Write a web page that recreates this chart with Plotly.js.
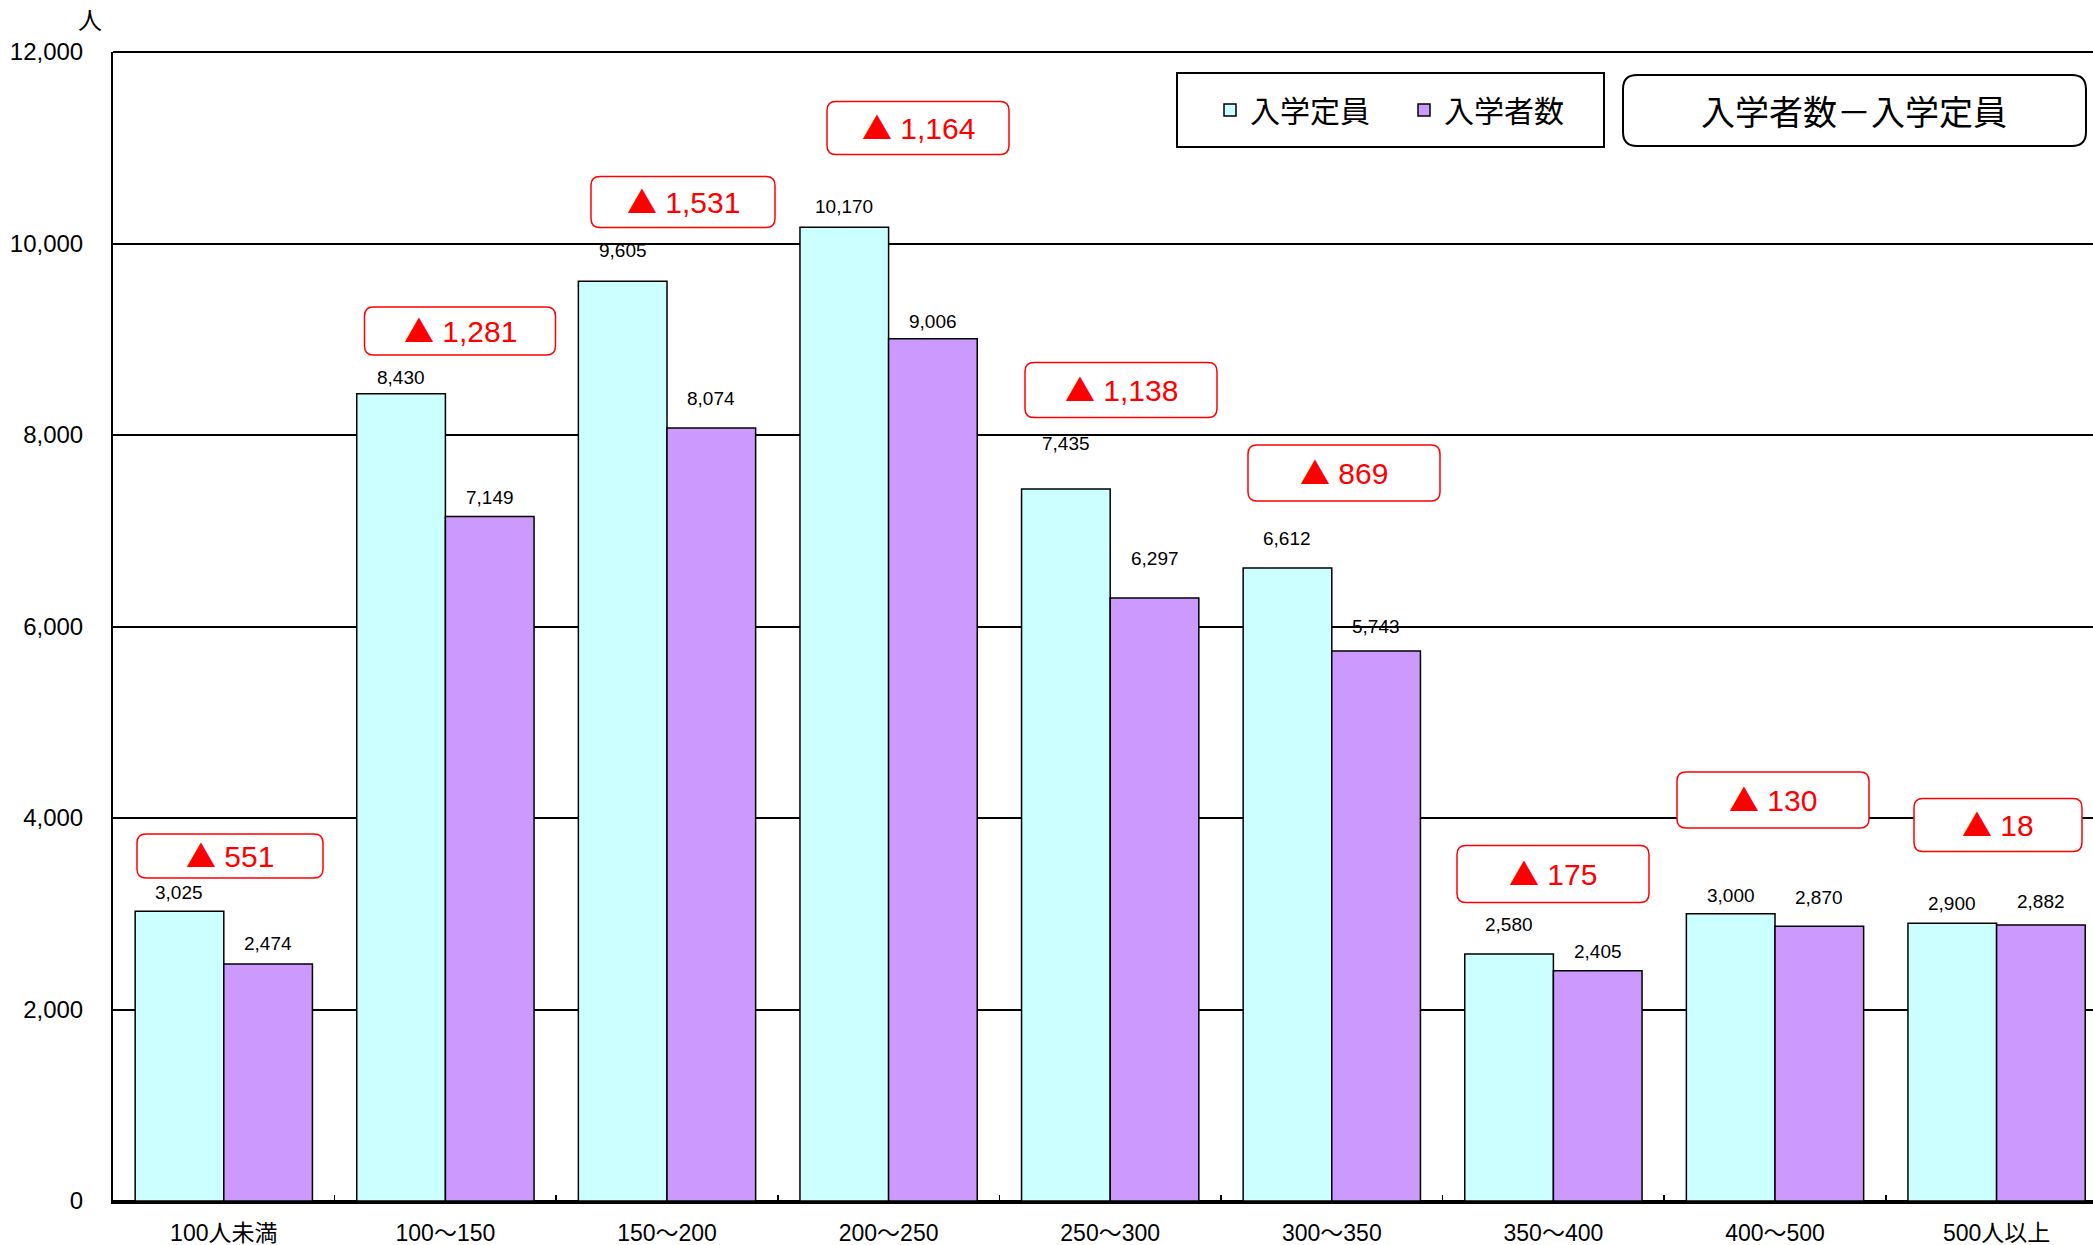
<!DOCTYPE html>
<html><head><meta charset="utf-8">
<script src="https://cdn.plot.ly/plotly-3.0.1.min.js"></script>
<style>html,body{margin:0;padding:0;background:#fff;} #chart{width:2093px;height:1245px;}</style>
</head><body><div id="chart"></div>
<script>
const categories = ['100人未満','100～150','150～200','200～250','250～300','300～350','350～400','400～500','500人以上'];
const capacity = [3025, 8430, 9605, 10170, 7435, 6612, 2580, 3000, 2900];
const enrolled = [2474, 7149, 8074, 9006, 6297, 5743, 2405, 2870, 2882];
const shortfall = [551, 1281, 1531, 1164, 1138, 869, 175, 130, 18];
const yTicks = [0, 2000, 4000, 6000, 8000, 10000, 12000];
const seriesNames = ['入学定員', '入学者数'];
const boxTitle = '入学者数－入学定員';
const unitLabel = '人';

// layout geometry (pixels)
const W = 2093, H = 1245, L = 113, R = 0, T = 52, B = 44;
const PW = W - L - R, PH = H - T - B;
const catPx = 221.6;
const xMax = -0.5 + PW / catPx;
const px2x = px => (px - L) / PW;
const px2y = py => (H - B - py) / PH;
function roundRect(cx, cy, w, h, r) {
  const x0 = cx - w/2, x1 = cx + w/2, y0 = cy - h/2, y1 = cy + h/2;
  const p = (x, y) => px2x(x).toFixed(5) + ',' + px2y(y).toFixed(5);
  return 'M' + p(x0+r, y0) + ' L' + p(x1-r, y0) + ' Q' + p(x1, y0) + ' ' + p(x1, y0+r) +
    ' L' + p(x1, y1-r) + ' Q' + p(x1, y1) + ' ' + p(x1-r, y1) +
    ' L' + p(x0+r, y1) + ' Q' + p(x0, y1) + ' ' + p(x0, y1-r) +
    ' L' + p(x0, y0+r) + ' Q' + p(x0, y0) + ' ' + p(x0+r, y0) + ' Z';
}
const fmt = v => v.toLocaleString('en-US');

// positions of the red callout boxes (pixel centre x, y, width, height)
const calloutBoxes = [
  [230, 856, 186, 44], [460, 331, 191, 48], [683, 202, 184, 51],
  [918, 128, 182, 53], [1121, 390, 192, 55], [1344, 473, 192, 56],
  [1553, 874, 192, 57], [1773, 800, 192, 56], [1998, 825, 168, 53]
];
// vertical offset (px) of value labels above bar tops
const capLabelShift = [19, 16, 31, 21, 46, 29, 29, 18, 20];
const enrLabelShift = [21, 19, 29, 17, 40, 25, 19, 29, 24];

const SANS = "'Liberation Sans', Arial, 'Noto Sans CJK JP', sans-serif";
const CJK = "'Noto Sans CJK JP', 'Liberation Sans', sans-serif";

const traces = [
  {type: 'bar', name: seriesNames[0], x: categories, y: capacity,
   marker: {color: '#CCFFFF', line: {color: '#000', width: 1.5}}, hoverinfo: 'x+y'},
  {type: 'bar', name: seriesNames[1], x: categories, y: enrolled,
   marker: {color: '#CC99FF', line: {color: '#000', width: 1.5}}, hoverinfo: 'x+y'}
];

const annotations = [];
categories.forEach((c, i) => {
  annotations.push({xref: 'x', yref: 'y', x: i - 0.2, y: capacity[i], yshift: capLabelShift[i],
    text: fmt(capacity[i]), showarrow: false, yanchor: 'middle',
    font: {family: SANS, size: 19, color: '#000'}});
  annotations.push({xref: 'x', yref: 'y', x: i + 0.2, y: enrolled[i], yshift: enrLabelShift[i],
    text: fmt(enrolled[i]), showarrow: false, yanchor: 'middle',
    font: {family: SANS, size: 19, color: '#000'}});
  const b = calloutBoxes[i];
  annotations.push({xref: 'paper', yref: 'paper', x: px2x(b[0]), y: px2y(b[1] - 2),
    text: '<span style="font-family:\'Noto Sans CJK JP\'">▲</span> ' + fmt(shortfall[i]),
    showarrow: false, xanchor: 'center', yanchor: 'middle',
    font: {family: SANS, size: 30, color: '#FF0000'}});
});
annotations.push({xref: 'paper', yref: 'paper', x: px2x(90), y: px2y(19), text: unitLabel,
  showarrow: false, xanchor: 'center', yanchor: 'middle', font: {family: CJK, size: 24, color: '#000'}});
annotations.push({xref: 'paper', yref: 'paper', x: px2x(1854), y: px2y(111), text: boxTitle,
  showarrow: false, xanchor: 'center', yanchor: 'middle', font: {family: CJK, size: 34, color: '#000'}});

const shapes = [];
calloutBoxes.forEach(b => {
  shapes.push({type: 'path', xref: 'paper', yref: 'paper', path: roundRect(b[0], b[1], b[2], b[3], 9),
    line: {color: '#FF0000', width: 1.5}, fillcolor: '#FFFFFF', layer: 'above'});
});
shapes.push({type: 'line', xref: 'paper', yref: 'paper', x0: 0, x1: 1, y0: 1, y1: 1,
  line: {color: '#000', width: 2}});
shapes.push({type: 'rect', xref: 'paper', yref: 'paper', x0: px2x(1177), x1: px2x(1604),
  y0: px2y(147), y1: px2y(73), line: {color: '#000', width: 2}, fillcolor: '#FFFFFF', layer: 'above'});
shapes.push({type: 'path', xref: 'paper', yref: 'paper', path: roundRect(1854.5, 110.5, 463, 71, 14),
  line: {color: '#000', width: 2}, fillcolor: '#FFFFFF', layer: 'above'});

const layout = {
  width: W, height: H,
  margin: {l: L, r: R, t: T, b: B, pad: 0},
  paper_bgcolor: '#FFFFFF', plot_bgcolor: '#FFFFFF',
  barmode: 'group', bargap: 0.2, bargroupgap: 0,
  showlegend: true,
  legend: {orientation: 'h', x: px2x(1210), xanchor: 'left', y: px2y(110), yanchor: 'middle',
    bgcolor: 'rgba(0,0,0,0)', borderwidth: 0, font: {family: CJK, size: 30, color: '#000'},
    entrywidth: 149, itemwidth: 30, traceorder: 'normal'},
  xaxis: {type: 'category', range: [-0.5, xMax], showgrid: false, showline: true,
    linecolor: '#000', linewidth: 3, ticks: 'inside', tickson: 'boundaries', ticklen: 6,
    tickcolor: '#000', tickwidth: 1.5, ticklabelstandoff: 9,
    tickfont: {family: SANS, size: 23, color: '#000'}, zeroline: false},
  yaxis: {range: [0, 12000], tickvals: yTicks, ticktext: yTicks.map(fmt), showgrid: true,
    gridcolor: '#000', gridwidth: 2, showline: true, linecolor: '#000', linewidth: 2,
    ticks: 'inside', ticklen: 8, tickcolor: '#000', tickwidth: 2,
    zeroline: true, zerolinecolor: '#000', zerolinewidth: 3, ticklabelstandoff: 23,
    tickfont: {family: SANS, size: 24, color: '#000'}},
  annotations: annotations,
  shapes: shapes
};

Plotly.newPlot('chart', traces, layout, {displayModeBar: false, staticPlot: true});
</script>
</body></html>
